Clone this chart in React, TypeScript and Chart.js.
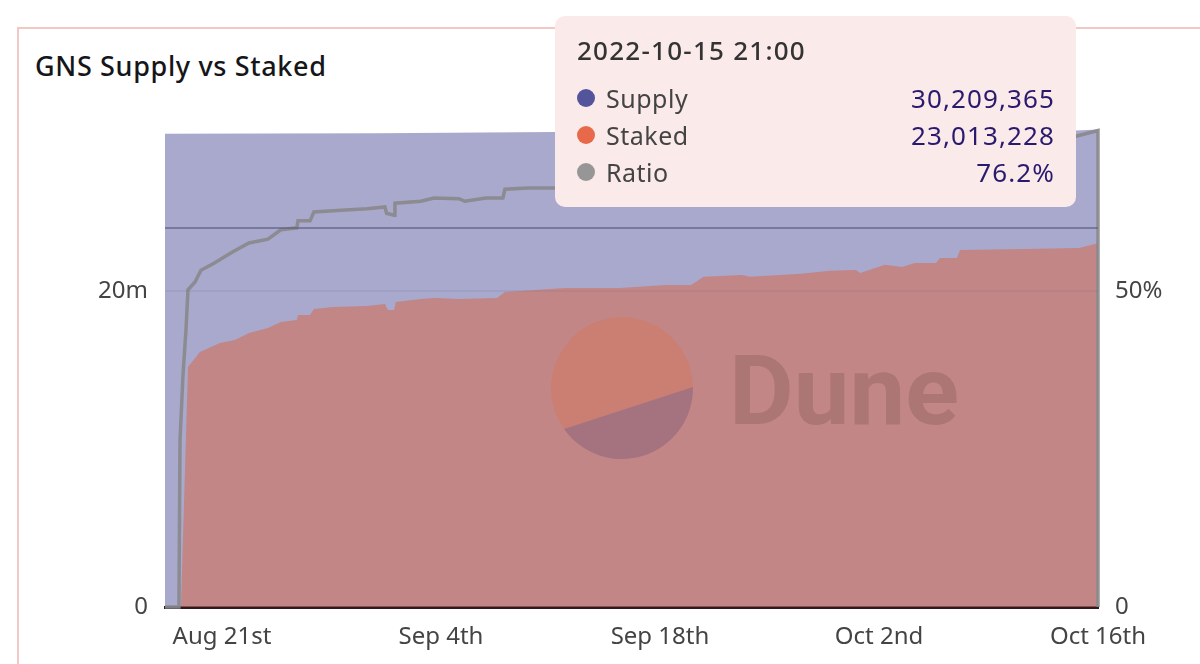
import { useEffect, useRef } from "react";
import { Chart, registerables } from "chart.js";

Chart.register(...registerables);

// x values are days after Aug 21st
const dayTicks = [0, 14, 28, 42, 56];
const dayLabels = ["Aug 21st", "Sep 4th", "Sep 18th", "Oct 2nd", "Oct 16th"];
const amountTicks = [0, 20000000];
const ratioTicks = [0, 0.5, 0.6];

const supplyDays = [-3.64, 10, 21.2, 40, 54.6, 56];
const supplyValues = [29.95, 29.98, 30.05, 30.1, 30.15, 30.21];

const stakedDays = [
  -2.62, -2.17, -1.41, -0.13, 0.83, 1.73, 2.94, 3.77, 4.79, 4.86, 5.63, 5.88, 7.1, 9.27, 10.42, 10.61, 11.0, 11.12,
  12.72, 13.55, 15.15, 17.58, 18.09, 20.07, 21.93, 25.44, 28.38, 29.98, 30.81, 33.24, 33.75, 37.01, 38.87, 40.53,
  40.79, 42.38, 43.47, 44.3, 45.64, 45.9, 46.99, 47.18, 51.27, 54.79, 56,
];
const stakedValues = [
  0, 15.19, 16.14, 16.71, 16.9, 17.34, 17.66, 18.04, 18.16, 18.48, 18.48, 18.86, 18.99, 19.05, 19.18, 18.8, 18.8, 19.3,
  19.49, 19.56, 19.49, 19.56, 19.94, 20.06, 20.19, 20.19, 20.38, 20.38, 20.89, 21.01, 20.89, 21.08, 21.27, 21.33,
  21.14, 21.65, 21.52, 21.77, 21.77, 22.09, 22.09, 22.59, 22.66, 22.72, 23.01,
];

const ratioDays = [
  -3.64, -2.75, -2.68, -2.49, -2.3, -2.17, -1.73, -1.34, -0.51, 0.7, 1.73, 2.94, 3.77, 4.79, 4.86, 5.63, 5.88, 7.1,
  9.27, 10.42, 10.52, 11.0, 11.06, 12.72, 13.55, 15.15, 15.53, 16.88, 17.96, 18.09, 19.56, 21.16, 25.44, 30.81, 36.95,
  42.38, 47.18, 51.27, 54.59, 56, 56,
];
const ratioValues = [
  0, 0, 0.264, 0.367, 0.438, 0.502, 0.514, 0.533, 0.544, 0.562, 0.576, 0.582, 0.597, 0.6, 0.611, 0.611, 0.625, 0.627,
  0.63, 0.633, 0.623, 0.62, 0.639, 0.642, 0.647, 0.646, 0.642, 0.647, 0.647, 0.661, 0.663, 0.663, 0.666, 0.682, 0.688,
  0.703, 0.723, 0.726, 0.745, 0.754, 0,
];

const tooltipTitle = "2022-10-15 21:00";
const tooltipNames = ["Supply", "Staked", "Ratio"];
const tooltipValues = ["30,209,365", "23,013,228", "76.2%"];
const tooltipColors = ["#54549c", "#e8694a", "#969696"];

const FONT = "'Noto Sans', sans-serif";

function toPoints(days: number[], values: number[], scale = 1) {
  return days.map((d, i) => ({ x: d, y: values[i] * scale }));
}

function formatAmount(v: number) {
  return v === 0 ? "0" : `${v / 1000000}m`;
}

export default function App() {
  const canvasRef = useRef<HTMLCanvasElement>(null);

  useEffect(() => {
    if (!canvasRef.current) return;
    const tickFont = { family: FONT, size: 24 };
    const chart = new Chart(canvasRef.current, {
      type: "line",
      data: {
        datasets: [
          {
            label: "Ratio",
            data: toPoints(ratioDays, ratioValues),
            yAxisID: "y2",
            borderColor: "rgba(136,136,140,0.9)",
            borderWidth: 3.5,
            pointRadius: 0,
            fill: false,
            order: 0,
            clip: 4,
          },
          {
            label: "Staked",
            data: toPoints(stakedDays, stakedValues, 1000000),
            yAxisID: "y",
            borderWidth: 0,
            pointRadius: 0,
            backgroundColor: "rgba(219,100,66,0.5)",
            fill: "origin",
            order: 1,
          },
          {
            label: "Supply",
            data: toPoints(supplyDays, supplyValues, 1000000),
            yAxisID: "y",
            borderWidth: 0,
            pointRadius: 0,
            backgroundColor: "rgba(84,84,156,0.5)",
            fill: "origin",
            order: 2,
          },
        ],
      },
      options: {
        responsive: true,
        maintainAspectRatio: false,
        animation: false,
        layout: { padding: { top: 125, bottom: 0, left: 0, right: 0 } },
        plugins: { legend: { display: false }, tooltip: { enabled: false } },
        scales: {
          x: {
            type: "linear",
            min: -3.64,
            max: 56,
            afterBuildTicks: (axis) => {
              axis.ticks = dayTicks.map((value) => ({ value }));
            },
            afterFit: (axis) => {
              axis.height = 57;
            },
            ticks: {
              color: "#444",
              font: tickFont,
              padding: 16,
              autoSkip: false,
              maxRotation: 0,
              callback: (v) => dayLabels[dayTicks.indexOf(Number(v))],
            },
            grid: { display: false, drawTicks: false },
            border: { display: true, color: "#2c1a1c", width: 3, z: -1 },
          },
          y: {
            position: "left",
            min: 0,
            max: 30500000,
            afterBuildTicks: (axis) => {
              axis.ticks = amountTicks.map((value) => ({ value }));
            },
            afterFit: (axis) => {
              axis.width = 165;
            },
            ticks: { color: "#444", font: tickFont, padding: 17, callback: (v) => formatAmount(Number(v)) },
            grid: { display: false, drawTicks: false },
            border: { display: false },
          },
          y2: {
            position: "right",
            min: 0,
            max: 0.7627,
            afterBuildTicks: (axis) => {
              axis.ticks = ratioTicks.map((value) => ({ value }));
            },
            afterFit: (axis) => {
              axis.width = 102;
            },
            ticks: {
              color: "#444",
              font: tickFont,
              padding: 17,
              callback: (v) => (Number(v) === 0 ? "0" : Number(v) === 0.5 ? "50%" : ""),
            },
            grid: {
              z: 1,
              drawTicks: false,
              lineWidth: 2,
              color: (ctx) =>
                ctx.tick.value === 0.6
                  ? "rgba(90,90,130,0.6)"
                  : ctx.tick.value === 0.5
                    ? "rgba(90,90,130,0.1)"
                    : "rgba(0,0,0,0)",
            },
            border: { display: false },
          },
        },
      },
    });
    return () => chart.destroy();
  }, []);

  return (
    <div style={{ position: "fixed", left: 0, top: 0, width: 1200, height: 664, background: "#fff", overflow: "hidden", fontFamily: FONT }}>
      <div style={{ position: "absolute", left: 17, top: 27, width: 1200, height: 700, borderTop: "2px solid #f3c8c4", borderLeft: "2px solid #f3c8c4" }} />
      <div style={{ position: "absolute", left: 35, top: 48, fontSize: 27, lineHeight: "36px", letterSpacing: 0.65, fontWeight: 500, color: "#16161a", whiteSpace: "nowrap" }}>
        GNS Supply vs Staked
      </div>
      <div style={{ position: "absolute", left: 0, top: 0, width: 1200, height: 664 }}>
        <canvas ref={canvasRef} />
      </div>
      <svg width={1200} height={664} style={{ position: "absolute", left: 0, top: 0 }}>
        <path d="M564 429 A71 71 0 1 1 693 387 Z" fill="#cb7f72" />
        <path d="M564 429 A71 71 0 0 0 693 387 Z" fill="#a4737f" />
        <text x={729} y={424} fontFamily="Roboto, sans-serif" fontWeight={700} fontSize={97} fill="#ac7674" textLength={230} lengthAdjust="spacingAndGlyphs">
          Dune
        </text>
      </svg>
      <div style={{ position: "absolute", left: 555, top: 16, width: 521, height: 191, background: "#fbeaea", borderRadius: 10 }}>
        <div style={{ position: "absolute", left: 22, top: 17, fontSize: 26, lineHeight: "34px", letterSpacing: 1.25, fontWeight: 500, color: "#333", whiteSpace: "nowrap" }}>
          {tooltipTitle}
        </div>
        {tooltipNames.map((name, i) => (
          <div key={name}>
            <div style={{ position: "absolute", left: 22, top: 73 + i * 37, width: 18, height: 18, borderRadius: 9, background: tooltipColors[i] }} />
            <div style={{ position: "absolute", left: 51, top: 65 + i * 37, fontSize: 25, lineHeight: "34px", letterSpacing: 0.5, color: "#444", whiteSpace: "nowrap" }}>
              {name}
            </div>
            <div style={{ position: "absolute", right: 21, top: 65 + i * 37, fontSize: 26, lineHeight: "34px", letterSpacing: 1.1, color: "#2a1a6e", whiteSpace: "nowrap" }}>
              {tooltipValues[i]}
            </div>
          </div>
        ))}
      </div>
    </div>
  );
}
